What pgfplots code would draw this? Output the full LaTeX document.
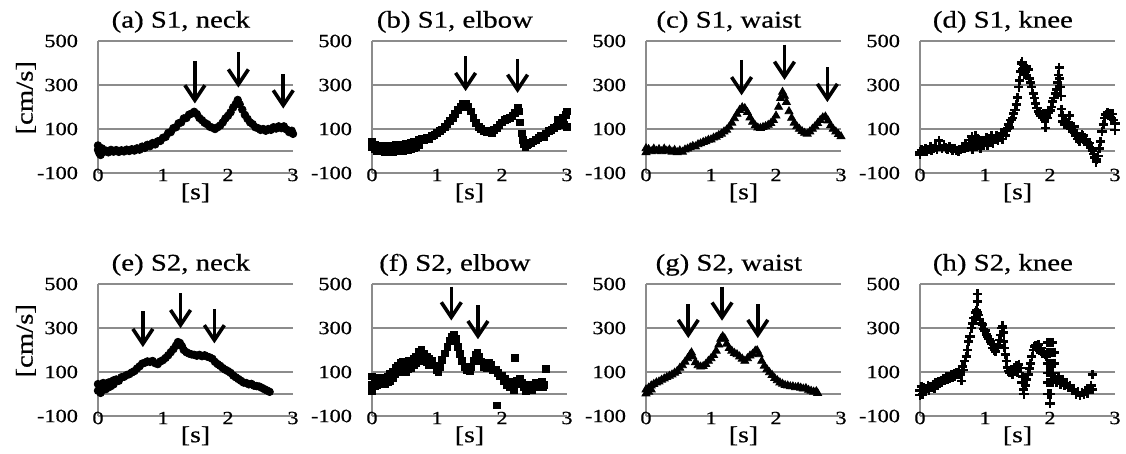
\documentclass[border=0pt]{standalone}
\usepackage{fontspec}
\setmainfont{Liberation Serif}[FakeStretch=1.2, FakeBold=0.6]
\usepackage{pgfplots}
\pgfplotsset{compat=1.18}
\usepgfplotslibrary{groupplots}
\usetikzlibrary{arrows.meta}

\definecolor{gridgray}{RGB}{140,140,140}

\pgfplotsset{
  every axis title shift=0pt,
  panel/.style={
    width=97.5pt, height=66pt, scale only axis,
    xmin=0, xmax=3, ymin=-100, ymax=500,
    xtick={0,1,2,3}, xticklabels={0,1,2,3},
    ytick={-100,100,300,500}, yticklabels={-100,100,300,500},
    extra y ticks={0}, extra y tick labels={},
    extra y tick style={grid=major},
    ymajorgrids,
    major grid style={gridgray, line width=0.6pt},
    axis x line*=bottom, axis y line*=left,
    x axis line style={gridgray, line width=0.6pt, -},
    y axis line style={gridgray, line width=0.6pt, -},
    major tick length=0pt,
    tick label style={font=\fontsize{9.3}{10}\selectfont},
    /pgf/number format/assume math mode=true,
    xticklabel style={anchor=center, inner sep=0pt, yshift=-1pt},
    yticklabel style={anchor=east, xshift=-6.5pt},
    xlabel={[s]},
    xlabel style={at={(axis description cs:0.5,-0.15)}, anchor=center, font=\fontsize{11.5}{12}\selectfont},
    ylabel style={at={(axis description cs:-0.37,0.57)}, anchor=center, font=\fontsize{12}{13}\selectfont},
    title style={at={(axis description cs:0.425,1.145)}, anchor=center, font=\fontsize{12}{13}\selectfont},
    clip=false,
  },
  dots/.style={only marks, mark=*, mark size=1.9pt, black},
  squares/.style={only marks, mark=square*, mark size=1.7pt, black},
  tris/.style={only marks, mark=triangle*, mark size=2.3pt, black},
  pluses/.style={only marks, mark=+, mark size=2.3pt, black, line width=1.3pt},
}
\tikzset{arr/.style={black, line width=1.8pt, -{Straight Barb[length=7.5pt, width=10pt]}}}

\begin{document}
\begin{tikzpicture}
\begin{groupplot}[group style={group size=4 by 2, horizontal sep=39.5pt, vertical sep=55.5pt}, panel]

% (a) S1 neck
\nextgroupplot[title={(a) S1, neck}, ylabel={[cm/s]}]
\addplot[dots] coordinates {
(0.00,25) (0.00,5) (0.02,-10) (0.04,-18) (0.06,12) (0.08,-5) (0.12,2) (0.16,-6) (0.20,5) (0.24,-3)
(0.28,4) (0.32,-4) (0.36,3) (0.40,-2) (0.44,6) (0.48,0) (0.52,8) (0.56,2) (0.60,12) (0.64,6)
(0.68,20) (0.72,14) (0.76,28) (0.80,22) (0.84,36) (0.88,30) (0.92,44) (0.96,46) (1.00,60) (1.04,64)
(1.08,82) (1.12,86) (1.16,104) (1.20,108) (1.24,126) (1.28,130) (1.32,148) (1.36,150) (1.40,165) (1.44,170)
(1.48,178) (1.52,168) (1.56,150) (1.60,140) (1.64,128) (1.68,122) (1.72,110) (1.76,106) (1.80,100) (1.84,108)
(1.88,116) (1.92,130) (1.96,148) (2.00,160) (2.04,176) (2.08,198) (2.12,214) (2.15,232) (2.18,212) (2.22,188)
(2.26,164) (2.30,146) (2.34,130) (2.38,122) (2.42,108) (2.46,104) (2.50,96) (2.54,100) (2.58,92) (2.62,100)
(2.66,96) (2.70,108) (2.74,102) (2.78,112) (2.82,104) (2.86,112) (2.90,98) (2.94,86) (2.98,92) (3.00,78)
};
\draw[arr] (axis cs:1.49,410) -- (axis cs:1.49,216);
\draw[arr] (axis cs:2.16,451) -- (axis cs:2.16,288);
\draw[arr] (axis cs:2.85,349) -- (axis cs:2.85,193);

% (b) S1 elbow
\nextgroupplot[title={(b) S1, elbow}]
\addplot[squares] coordinates {
(0.00,40) (0.00,20) (0.04,30) (0.04,10) (0.08,22) (0.08,2) (0.12,20) (0.12,-2) (0.16,18) (0.16,0)
(0.20,22) (0.20,-4) (0.24,14) (0.24,-6) (0.28,24) (0.28,0) (0.32,16) (0.32,-4) (0.36,26) (0.36,2)
(0.40,20) (0.40,-2) (0.44,30) (0.44,4) (0.48,28) (0.48,0) (0.52,34) (0.52,6) (0.56,30) (0.56,4)
(0.60,38) (0.60,8) (0.64,40) (0.64,12) (0.68,44) (0.68,18) (0.72,50) (0.72,26) (0.76,54) (0.80,48)
(0.84,62) (0.88,56) (0.92,70) (0.96,72) (1.00,82) (1.04,90) (1.08,98) (1.12,108) (1.16,124) (1.20,138)
(1.24,152) (1.28,170) (1.32,186) (1.36,202) (1.40,214) (1.44,216) (1.48,200) (1.52,180) (1.56,152) (1.60,128)
(1.64,110) (1.68,100) (1.72,92) (1.76,86) (1.80,90) (1.84,84) (1.88,96) (1.92,106) (1.96,120) (2.00,130)
(2.04,140) (2.08,146) (2.12,150) (2.16,160) (2.20,172) (2.24,196) (2.26,180) (2.28,130) (2.30,80) (2.32,50)
(2.34,30) (2.36,20) (2.38,26) (2.40,32) (2.44,38) (2.48,44) (2.52,52) (2.56,60) (2.60,68) (2.64,62)
(2.68,80) (2.72,90) (2.76,96) (2.80,104) (2.84,112) (2.86,140) (2.88,118) (2.92,130) (2.94,150) (2.96,120)
(2.98,165) (3.00,110) (3.00,180)
};
\draw[arr] (axis cs:1.44,430) -- (axis cs:1.44,272);
\draw[arr] (axis cs:2.24,419) -- (axis cs:2.24,264);

% (c) S1 waist
\nextgroupplot[title={(c) S1, waist}]
\addplot[tris] coordinates {
(0.00,12) (0.00,-6) (0.04,8) (0.08,-2) (0.12,10) (0.16,0) (0.20,8) (0.24,-2) (0.28,10) (0.32,0)
(0.36,6) (0.40,-4) (0.44,4) (0.48,-6) (0.52,2) (0.56,-4) (0.60,6) (0.64,10) (0.68,16) (0.72,22)
(0.76,20) (0.80,30) (0.84,34) (0.88,40) (0.92,44) (0.96,50) (1.00,52) (1.04,60) (1.08,64) (1.12,72)
(1.16,78) (1.20,88) (1.24,96) (1.28,110) (1.32,128) (1.36,148) (1.40,168) (1.44,186) (1.48,198) (1.52,194)
(1.56,176) (1.60,152) (1.64,132) (1.68,116) (1.72,106) (1.76,104) (1.80,108) (1.84,112) (1.88,118) (1.92,126)
(1.96,140) (2.00,160) (2.04,200) (2.07,240) (2.10,268) (2.13,250) (2.16,222) (2.20,180) (2.24,150) (2.28,128)
(2.32,112) (2.36,100) (2.40,90) (2.44,82) (2.48,78) (2.52,88) (2.56,100) (2.60,112) (2.64,126) (2.68,140)
(2.72,152) (2.76,156) (2.80,138) (2.84,116) (2.88,100) (2.92,88) (2.96,76) (3.00,66)
};
\draw[arr] (axis cs:1.47,414) -- (axis cs:1.47,253);
\draw[arr] (axis cs:2.13,483) -- (axis cs:2.13,323);
\draw[arr] (axis cs:2.79,381) -- (axis cs:2.79,222);

% (d) S1 knee
\nextgroupplot[title={(d) S1, knee}]
\addplot[pluses] coordinates {
(0.00,-5) (0.00,-15) (0.02,5) (0.05,2) (0.08,12) (0.10,-4) (0.13,8) (0.16,18) (0.18,2) (0.21,12)
(0.24,20) (0.26,6) (0.29,48) (0.31,22) (0.34,10) (0.37,28) (0.40,14) (0.42,6) (0.45,18) (0.48,10)
(0.50,4) (0.53,12) (0.56,2) (0.59,-4) (0.62,8) (0.65,20) (0.68,12) (0.70,34) (0.73,18) (0.76,50)
(0.78,30) (0.80,66) (0.81,6) (0.83,44) (0.85,68) (0.87,20) (0.89,58) (0.91,36) (0.93,10) (0.95,48)
(0.97,28) (1.00,44) (1.02,62) (1.04,24) (1.06,56) (1.08,40) (1.10,68) (1.12,36) (1.15,56) (1.18,72)
(1.20,48) (1.22,64) (1.25,82) (1.27,54) (1.30,90) (1.32,70) (1.34,100) (1.36,120) (1.38,106) (1.40,140)
(1.42,150) (1.44,170) (1.46,186) (1.48,210) (1.50,244) (1.52,290) (1.53,320) (1.55,360) (1.56,395) (1.57,405)
(1.58,370) (1.59,390) (1.60,350) (1.61,380) (1.62,360) (1.63,385) (1.64,345) (1.66,370) (1.68,330) (1.70,310)
(1.72,290) (1.74,262) (1.76,240) (1.78,215) (1.80,196) (1.82,180) (1.84,170) (1.86,160) (1.88,150) (1.90,168)
(1.92,140) (1.93,105) (1.94,160) (1.96,150) (1.98,175) (2.00,185) (2.02,200) (2.04,225) (2.06,240) (2.08,262)
(2.10,280) (2.12,310) (2.13,345) (2.14,380) (2.15,330) (2.16,290) (2.17,250) (2.18,190) (2.19,160) (2.20,135)
(2.22,120) (2.24,140) (2.26,118) (2.28,130) (2.30,160) (2.31,110) (2.33,100) (2.35,88) (2.37,110) (2.39,70)
(2.41,80) (2.43,54) (2.45,44) (2.47,60) (2.49,76) (2.51,70) (2.53,42) (2.55,54) (2.57,38) (2.59,30)
(2.61,36) (2.63,14) (2.65,2) (2.67,-14) (2.69,-30) (2.71,-50) (2.72,-40) (2.74,-22) (2.76,10) (2.78,42)
(2.80,88) (2.82,120) (2.84,150) (2.86,165) (2.88,175) (2.90,160) (2.92,172) (2.94,150) (2.96,168) (2.98,140)
(3.00,125) (3.00,95)
};

% (e) S2 neck
\nextgroupplot[title={(e) S2, neck}, ylabel={[cm/s]}]
\addplot[dots] coordinates {
(0.00,45) (0.00,15) (0.04,30) (0.04,5) (0.08,50) (0.08,20) (0.12,40) (0.12,22) (0.16,52) (0.16,30)
(0.20,55) (0.20,36) (0.24,62) (0.24,44) (0.28,66) (0.32,60) (0.36,76) (0.40,78) (0.44,86) (0.48,90)
(0.52,98) (0.56,104) (0.60,116) (0.64,126) (0.68,138) (0.72,142) (0.76,148) (0.80,146) (0.84,150) (0.88,140)
(0.92,136) (0.96,148) (1.00,154) (1.04,164) (1.08,176) (1.12,190) (1.16,204) (1.20,220) (1.23,236) (1.26,232)
(1.29,218) (1.32,200) (1.36,190) (1.40,184) (1.44,180) (1.48,178) (1.52,174) (1.56,178) (1.60,172) (1.64,176)
(1.68,170) (1.72,166) (1.76,160) (1.80,146) (1.84,136) (1.88,128) (1.92,118) (1.96,110) (2.00,104) (2.04,96)
(2.08,84) (2.12,76) (2.16,68) (2.20,60) (2.24,52) (2.28,50) (2.32,44) (2.36,46) (2.40,38) (2.44,36)
(2.48,34) (2.52,28) (2.56,22) (2.60,16) (2.64,10)
};
\draw[arr] (axis cs:0.69,375) -- (axis cs:0.69,213);
\draw[arr] (axis cs:1.27,457) -- (axis cs:1.27,299);
\draw[arr] (axis cs:1.79,387) -- (axis cs:1.79,230);

% (f) S2 elbow
\nextgroupplot[title={(f) S2, elbow}]
\addplot[squares] coordinates {
(0.00,80) (0.00,40) (0.00,15) (0.04,70) (0.04,35) (0.08,60) (0.08,40) (0.12,75) (0.12,50) (0.16,70)
(0.16,45) (0.20,60) (0.20,45) (0.24,80) (0.24,55) (0.28,90) (0.28,60) (0.32,100) (0.32,75) (0.36,120)
(0.36,90) (0.40,130) (0.40,100) (0.44,140) (0.44,105) (0.48,145) (0.48,110) (0.52,130) (0.52,100) (0.56,150)
(0.56,115) (0.60,145) (0.60,120) (0.64,160) (0.64,130) (0.68,170) (0.68,140) (0.72,190) (0.72,150) (0.76,200)
(0.76,160) (0.80,185) (0.80,150) (0.84,170) (0.84,145) (0.88,160) (0.88,130) (0.92,150) (0.96,130) (1.00,110)
(1.02,100) (1.04,125) (1.08,155) (1.12,185) (1.16,215) (1.20,242) (1.23,262) (1.26,268) (1.29,250) (1.32,215)
(1.35,182) (1.38,150) (1.42,125) (1.46,110) (1.50,105) (1.53,125) (1.56,150) (1.59,178) (1.62,188) (1.65,170)
(1.68,148) (1.72,125) (1.76,118) (1.80,140) (1.83,132) (1.86,110) (1.90,112) (1.92,-52) (1.94,95) (1.97,80)
(2.00,85) (2.02,60) (2.05,70) (2.08,40) (2.10,55) (2.12,30) (2.15,45) (2.18,20) (2.20,163) (2.22,60)
(2.25,45) (2.28,70) (2.31,50) (2.34,30) (2.37,15) (2.40,25) (2.43,40) (2.46,20) (2.49,35) (2.52,50)
(2.55,30) (2.58,45) (2.61,55) (2.63,30) (2.65,40) (2.67,115)
};
\draw[arr] (axis cs:1.22,488) -- (axis cs:1.22,334);
\draw[arr] (axis cs:1.63,403) -- (axis cs:1.63,249);

% (g) S2 waist
\nextgroupplot[title={(g) S2, waist}]
\addplot[tris] coordinates {
(0.00,20) (0.00,2) (0.04,28) (0.04,10) (0.08,38) (0.08,20) (0.12,45) (0.16,52) (0.20,56) (0.24,64)
(0.28,70) (0.32,76) (0.36,82) (0.40,88) (0.44,96) (0.48,104) (0.52,118) (0.56,130) (0.60,146) (0.64,162)
(0.68,180) (0.70,188) (0.72,170) (0.76,144) (0.80,130) (0.84,124) (0.88,126) (0.92,136) (0.96,150) (1.00,162)
(1.04,176) (1.08,196) (1.12,224) (1.15,250) (1.18,262) (1.21,252) (1.24,228) (1.28,208) (1.32,196) (1.36,186)
(1.40,180) (1.44,170) (1.48,160) (1.52,150) (1.56,162) (1.60,174) (1.64,182) (1.68,196) (1.71,198) (1.74,180)
(1.78,150) (1.82,128) (1.86,112) (1.90,98) (1.94,86) (1.98,72) (2.02,62) (2.06,52) (2.10,46) (2.14,40)
(2.18,38) (2.22,34) (2.26,34) (2.30,30) (2.34,32) (2.38,28) (2.42,24) (2.46,26) (2.50,18) (2.54,14)
(2.58,10) (2.62,12) (2.64,4)
};
\draw[arr] (axis cs:0.65,407) -- (axis cs:0.65,254);
\draw[arr] (axis cs:1.17,488) -- (axis cs:1.17,333);
\draw[arr] (axis cs:1.72,407) -- (axis cs:1.72,254);

% (h) S2 knee
\nextgroupplot[title={(h) S2, knee}]
\addplot[pluses] coordinates {
(0.00,15) (0.00,-5) (0.02,35) (0.04,0) (0.06,30) (0.08,10) (0.10,25) (0.12,40) (0.14,15) (0.16,35)
(0.18,28) (0.20,45) (0.22,25) (0.24,50) (0.26,40) (0.28,58) (0.30,48) (0.32,62) (0.34,55) (0.36,70)
(0.38,60) (0.40,78) (0.42,65) (0.44,80) (0.46,70) (0.48,88) (0.50,75) (0.52,92) (0.54,80) (0.56,96)
(0.58,88) (0.60,104) (0.62,90) (0.64,60) (0.65,125) (0.67,110) (0.69,150) (0.71,170) (0.73,200) (0.75,240)
(0.77,262) (0.79,300) (0.81,320) (0.83,345) (0.85,370) (0.86,350) (0.87,380) (0.88,420) (0.88,455) (0.89,370)
(0.90,360) (0.92,340) (0.94,320) (0.96,315) (0.98,295) (1.00,290) (1.02,270) (1.04,262) (1.06,250) (1.08,240)
(1.10,228) (1.12,210) (1.14,200) (1.16,192) (1.18,210) (1.20,220) (1.22,245) (1.24,268) (1.26,300) (1.27,310)
(1.28,280) (1.29,240) (1.30,210) (1.31,180) (1.33,150) (1.34,120) (1.36,105) (1.38,96) (1.40,110) (1.42,90)
(1.45,118) (1.48,128) (1.50,100) (1.52,135) (1.55,118) (1.57,52) (1.58,80) (1.59,20) (1.60,0) (1.62,40)
(1.64,66) (1.66,90) (1.68,115) (1.70,140) (1.72,170) (1.74,200) (1.76,215) (1.78,222) (1.80,205) (1.82,225)
(1.84,198) (1.86,210) (1.88,185) (1.90,195) (1.92,178) (1.95,170)
(1.96,234) (2.00,234) (2.04,234) (1.96,190) (2.00,190) (2.04,190) (2.07,190)
(1.96,140) (2.00,140) (2.04,140) (2.07,140) (1.96,96) (2.00,96) (2.04,96)
(1.96,52) (2.00,52) (2.04,52) (1.97,0) (2.01,0) (2.00,-43)
(2.07,70) (2.10,55) (2.13,80) (2.16,45) (2.19,66) (2.22,40) (2.25,50) (2.28,30) (2.31,38) (2.34,15)
(2.37,22) (2.40,0) (2.43,10) (2.46,-8) (2.49,8) (2.52,-2) (2.55,15) (2.58,5) (2.61,25) (2.63,40)
(2.65,88) (2.65,20)
};

\end{groupplot}
\pgfresetboundingbox
\path[use as bounding box] ([xshift=-49pt,yshift=20.5pt]group c1r1.north west) rectangle ([xshift=5.5pt,yshift=-18.75pt]group c4r2.south east);
\end{tikzpicture}
\end{document}
